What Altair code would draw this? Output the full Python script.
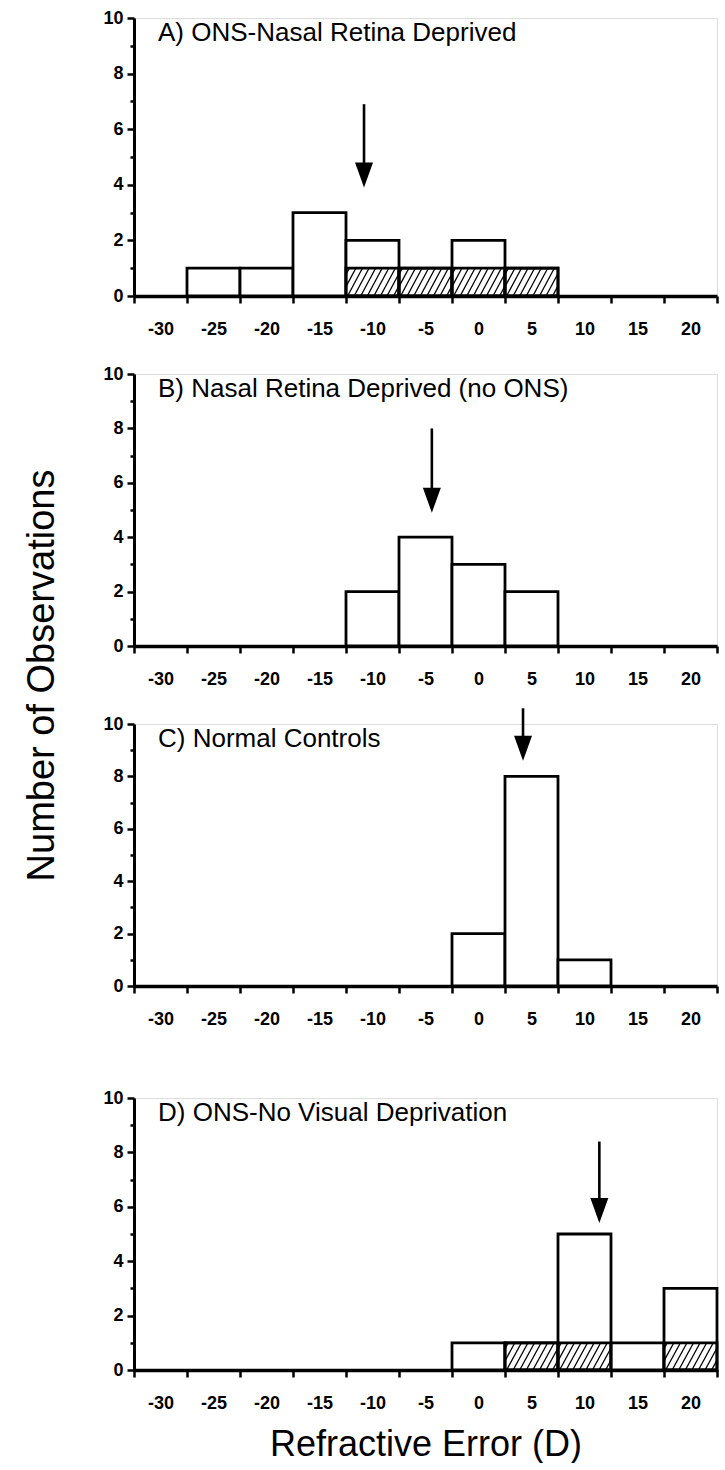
import altair as alt
import pandas as pd

# ---------------- data ----------------
bin_centers = [-30, -25, -20, -15, -10, -5, 0, 5, 10, 15, 20]
bin_width = 5

panel_titles = [
    "A) ONS-Nasal Retina Deprived",
    "B) Nasal Retina Deprived (no ONS)",
    "C) Normal Controls",
    "D) ONS-No Visual Deprivation",
]

totals_A = [0, 1, 1, 3, 2, 1, 2, 1, 0, 0, 0]
hatched_A = [0, 0, 0, 0, 1, 1, 1, 1, 0, 0, 0]
totals_B = [0, 0, 0, 0, 2, 4, 3, 2, 0, 0, 0]
hatched_B = [0, 0, 0, 0, 0, 0, 0, 0, 0, 0, 0]
totals_C = [0, 0, 0, 0, 0, 0, 2, 8, 1, 0, 0]
hatched_C = [0, 0, 0, 0, 0, 0, 0, 0, 0, 0, 0]
totals_D = [0, 0, 0, 0, 0, 0, 1, 1, 5, 1, 3]
hatched_D = [0, 0, 0, 0, 0, 0, 0, 1, 1, 0, 1]

# mean arrows (x = mean refractive error, y in counts)
arrow_mean = [-10.8, -4.4, 4.2, 11.4]
arrow_top = [6.9, 8.0, 10.6, 8.4]
arrow_tip = [3.9, 4.9, 8.6, 5.4]

y_tick_values = [0, 1, 2, 3, 4, 5, 6, 7, 8, 9, 10]

x_title = "Refractive Error (D)"
y_title = "Number of Observations"

# ---------------- styling ----------------
FONT = "Liberation Sans"
PLOT_W = 583
heights = [278, 272, 262, 272]
title_offsets = [-58, -58, -66, -58]
HATCH_SLOPE = 1.4   # D per count along a hatch line
HATCH_STEP = 0.62   # D between hatch lines

edges = [c - bin_width / 2 for c in bin_centers] + [bin_centers[-1] + bin_width / 2]
x_domain = [edges[0], edges[-1]]


def x_axis(title):
    kw = dict(
        values=sorted(edges + bin_centers),
        labelExpr="datum.value % 5 === 0 ? '' + datum.value : ''",
        tickSize={"condition": {"test": "datum.value % 5 === 0", "value": 0}, "value": 7},
        tickOpacity={"condition": {"test": "datum.value % 5 === 0", "value": 0}, "value": 1},
        tickWidth=2.5,
        tickColor="black",
        domainWidth=3.5,
        domainColor="black",
        labelFont=FONT,
        labelFontSize=18,
        labelFontWeight="bold",
        labelColor="black",
        labelPadding=24,
        labelOverlap=False,
        labelFlush=False,
        grid=False,
    )
    if title:
        kw.update(title=title, titleFont=FONT, titleFontSize=36, titleFontWeight="normal",
                  titleColor="black", titlePadding=8)
    else:
        kw.update(title=None)
    return alt.Axis(**kw)


def y_axis():
    return alt.Axis(
        values=y_tick_values,
        labelExpr="datum.value % 2 === 0 ? datum.label : ''",
        tickSize={"condition": {"test": "datum.value % 2 === 0", "value": 7}, "value": 4},
        tickWidth=2.5,
        tickColor="black",
        domainWidth=3,
        domainColor="black",
        labelFont=FONT,
        labelFontSize=18,
        labelFontWeight="bold",
        labelColor="black",
        labelPadding=4,
        grid=False,
        title=None,
    )


def hatch_segments(centers, hatched):
    rows = []
    for c, h in zip(centers, hatched):
        if h <= 0:
            continue
        xa, xb = c - bin_width / 2, c + bin_width / 2
        off = xa - HATCH_SLOPE * h + HATCH_STEP / 2
        while off < xb:
            y_lo = max(0.0, (xa - off) / HATCH_SLOPE)
            y_hi = min(float(h), (xb - off) / HATCH_SLOPE)
            if y_hi > y_lo + 1e-6:
                rows.append({"hx0": off + HATCH_SLOPE * y_lo, "hy0": y_lo,
                             "hx1": off + HATCH_SLOPE * y_hi, "hy1": y_hi})
            off += HATCH_STEP
    return pd.DataFrame(rows)


ARROW_HEAD = "M-0.72,-2L0.72,-2L0,0Z"


def make_panel(i, totals, hatched, show_x_title):
    xs = alt.Scale(domain=x_domain, nice=False, zero=False)
    ys = alt.Scale(domain=[0, 10], nice=False)
    xa = x_axis(x_title if show_x_title else None)
    ya = y_axis()

    df = pd.DataFrame({"center": bin_centers, "total": totals, "hatched": hatched})
    df["x0"] = df["center"] - bin_width / 2
    df["x1"] = df["center"] + bin_width / 2
    df["base"] = 0
    bars = df[df["total"] > 0]
    hat = df[df["hatched"] > 0]

    layers = [
        alt.Chart(bars).mark_rect(fill="white", stroke="black", strokeWidth=2.8).encode(
            x=alt.X("x0:Q", scale=xs, axis=xa),
            x2="x1:Q",
            y=alt.Y("total:Q", scale=ys, axis=ya),
            y2="base:Q",
        )
    ]
    if len(hat):
        segs = hatch_segments(bin_centers, hatched)
        layers.append(
            alt.Chart(segs).mark_rule(color="black", strokeWidth=1.3).encode(
                x=alt.X("hx0:Q", scale=xs, axis=xa),
                x2="hx1:Q",
                y=alt.Y("hy0:Q", scale=ys, axis=ya),
                y2="hy1:Q",
            )
        )
        layers.append(
            alt.Chart(hat).mark_rect(fillOpacity=0, stroke="black", strokeWidth=2.8).encode(
                x=alt.X("x0:Q", scale=xs, axis=xa),
                x2="x1:Q",
                y=alt.Y("hatched:Q", scale=ys, axis=ya),
                y2="base:Q",
            )
        )

    adf = pd.DataFrame({"mean": [arrow_mean[i]], "top": [arrow_top[i]],
                        "tip": [arrow_tip[i]]})
    adf["shaft_end"] = adf["tip"] + 0.5
    layers.append(
        alt.Chart(adf).mark_rule(color="black", strokeWidth=2.6).encode(
            x=alt.X("mean:Q", scale=xs, axis=xa),
            y=alt.Y("top:Q", scale=ys, axis=ya),
            y2="shaft_end:Q",
        )
    )
    layers.append(
        alt.Chart(adf).mark_point(shape=ARROW_HEAD, filled=True, size=625, color="black",
                                  opacity=1).encode(
            x=alt.X("mean:Q", scale=xs, axis=xa),
            y=alt.Y("tip:Q", scale=ys, axis=ya),
        )
    )

    return alt.layer(*layers).properties(
        width=PLOT_W,
        height=heights[i],
        title=alt.TitleParams(
            panel_titles[i], anchor="start", frame="group", orient="top",
            dx=24, offset=title_offsets[i], baseline="alphabetic",
            font=FONT, fontSize=26, fontWeight="normal", color="black",
        ),
    )


pA = make_panel(0, totals_A, hatched_A, False)
pB = make_panel(1, totals_B, hatched_B, False)
pC = make_panel(2, totals_C, hatched_C, False)
pD = make_panel(3, totals_D, hatched_D, True)

upper = alt.vconcat(pA, pB, pC, spacing=78, bounds="flush")
chart = alt.vconcat(upper, pD, spacing=52).properties(
    title=alt.TitleParams(
        y_title, orient="left", anchor="middle", offset=40, dx=60,
        font=FONT, fontSize=38, fontWeight="normal", color="black",
    ),
    padding={"left": 24, "top": 8, "right": 2, "bottom": 0},
).configure_view(stroke=None).configure(background="white")

chart.save("out.html", embed_options={"renderer": "svg", "actions": False})
